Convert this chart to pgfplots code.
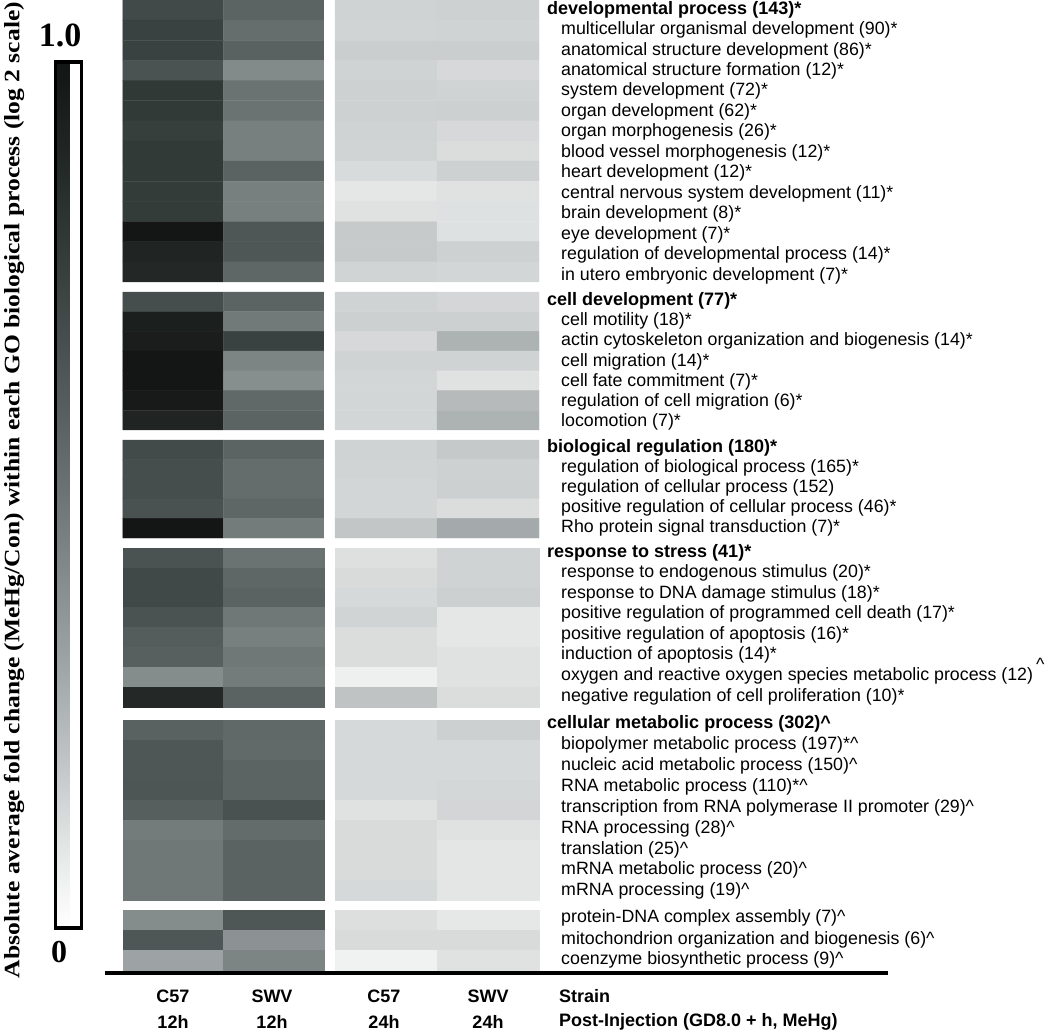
\documentclass[border=0pt]{standalone}
\usepackage{pgfplots}
\pgfplotsset{compat=1.18}
\usepackage{fontspec}
\setmainfont{Liberation Sans}
\newfontfamily\tnr{Liberation Serif}
\usepackage{graphicx}
\begin{document}
\begin{tikzpicture}[
  lab/.style={anchor=west, inner sep=0pt, font=\fontsize{17.8}{20}\selectfont},
  hd/.style={anchor=west, inner sep=0pt, font=\fontsize{18}{20}\selectfont\bfseries},
  bt/.style={inner sep=0pt, font=\fontsize{18}{20}\selectfont\bfseries},
]
\begin{axis}[
  name=main,
  at={(0,0)}, anchor=south west,
  width=1050pt, height=1033pt, scale only axis,
  xmin=0, xmax=1050, ymin=0, ymax=1033, y dir=reverse,
  hide axis, clip=false,
  colormap={hm}{rgb255(0cm)=(255,255,255); rgb255(1cm)=(226,228,228); rgb255(2cm)=(190,194,195);
    rgb255(3cm)=(160,166,167); rgb255(4cm)=(134,141,141); rgb255(5cm)=(108,116,116);
    rgb255(6cm)=(86,95,94); rgb255(7cm)=(66,75,73); rgb255(8cm)=(48,56,54);
    rgb255(9cm)=(32,37,36); rgb255(10cm)=(20,21,21)},
  point meta min=0, point meta max=1,
  colorbar,
  colorbar style={
    at={(parent axis.north west)}, anchor=north west,
    xshift=47pt, yshift=-62pt,
    width=26pt, height=866pt, scale only axis,
    ytick=\empty, xtick=\empty,
    axis line style={line width=3.5pt, black},
  },
]
% ---------- block 1: developmental process ----------
\addplot[matrix plot*, mesh/cols=2, point meta=explicit] coordinates {
(173,10.07)[.707] (273.5,10.07)[.578]
(173,30.21)[.750] (273.5,30.21)[.533]
(173,50.35)[.750] (273.5,50.35)[.586]
(173,70.49)[.662] (273.5,70.49)[.412]
(173,90.63)[.796] (273.5,90.63)[.511]
(173,110.77)[.790] (273.5,110.77)[.511]
(173,130.91)[.763] (273.5,130.91)[.455]
(173,151.05)[.790] (273.5,151.05)[.455]
(173,171.19)[.790] (273.5,171.19)[.580]
(173,191.33)[.780] (273.5,191.33)[.455]
(173,211.47)[.780] (273.5,211.47)[.455]
(173,231.61)[1.00] (273.5,231.61)[.638]
(173,251.75)[.900] (273.5,251.75)[.638]
(173,271.89)[.884] (273.5,271.89)[.562]
};
\addplot[matrix plot*, mesh/cols=2, point meta=explicit] coordinates {
(386,10.07)[.150] (488,10.07)[.155]
(386,30.21)[.147] (488,30.21)[.150]
(386,50.35)[.166] (488,50.35)[.166]
(386,70.49)[.150] (488,70.49)[.134]
(386,90.63)[.156] (488,90.63)[.150]
(386,110.77)[.155] (488,110.77)[.160]
(386,130.91)[.150] (488,130.91)[.134]
(386,151.05)[.147] (488,151.05)[.120]
(386,171.19)[.127] (488,171.19)[.155]
(386,191.33)[.088] (488,191.33)[.105]
(386,211.47)[.106] (488,211.47)[.110]
(386,231.61)[.177] (488,231.61)[.110]
(386,251.75)[.177] (488,251.75)[.157]
(386,271.89)[.147] (488,271.89)[.141]
};
% ---------- block 2: cell development ----------
\addplot[matrix plot*, mesh/cols=2, point meta=explicit] coordinates {
(173,301.86)[.684] (273.5,301.86)[.578]
(173,321.57)[.938] (273.5,321.57)[.481]
(173,341.29)[.952] (273.5,341.29)[.748]
(173,361.00)[1.00] (273.5,361.00)[.438]
(173,380.71)[1.00] (273.5,380.71)[.397]
(173,400.43)[.970] (273.5,400.43)[.557]
(173,420.14)[.900] (273.5,420.14)[.578]
};
\addplot[matrix plot*, mesh/cols=2, point meta=explicit] coordinates {
(386,301.86)[.150] (488,301.86)[.140]
(386,321.57)[.160] (488,321.57)[.160]
(386,341.29)[.134] (488,341.29)[.258]
(386,361.00)[.150] (488,361.00)[.150]
(386,380.71)[.141] (488,380.71)[.105]
(386,400.43)[.141] (488,400.43)[.227]
(386,420.14)[.141] (488,420.14)[.258]
};
% ---------- block 3: biological regulation ----------
\addplot[matrix plot*, mesh/cols=2, point meta=explicit] coordinates {
(173,449.8)[.698] (273.5,449.8)[.578]
(173,469.4)[.687] (273.5,469.4)[.538]
(173,489.0)[.687] (273.5,489.0)[.538]
(173,508.6)[.665] (273.5,508.6)[.562]
(173,528.2)[1.00] (273.5,528.2)[.473]
};
\addplot[matrix plot*, mesh/cols=2, point meta=explicit] coordinates {
(386,449.8)[.150] (488,449.8)[.180]
(386,469.4)[.147] (488,469.4)[.156]
(386,489.0)[.141] (488,489.0)[.160]
(386,508.6)[.141] (488,508.6)[.120]
(386,528.2)[.187] (488,528.2)[.287]
};
% ---------- block 4: response to stress ----------
\addplot[matrix plot*, mesh/cols=2, point meta=explicit] coordinates {
(173,557.94)[.659] (273.5,557.94)[.510]
(173,577.81)[.713] (273.5,577.81)[.562]
(173,597.69)[.711] (273.5,597.69)[.583]
(173,617.56)[.659] (273.5,617.56)[.488]
(173,637.44)[.610] (273.5,637.44)[.458]
(173,657.31)[.595] (273.5,657.31)[.488]
(173,677.19)[.405] (273.5,677.19)[.473]
(173,697.06)[.878] (273.5,697.06)[.583]
};
\addplot[matrix plot*, mesh/cols=2, point meta=explicit] coordinates {
(386,557.94)[.111] (488,557.94)[.150]
(386,577.81)[.126] (488,577.81)[.150]
(386,597.69)[.133] (488,597.69)[.160]
(386,617.56)[.147] (488,617.56)[.089]
(386,637.44)[.120] (488,637.44)[.089]
(386,657.31)[.120] (488,657.31)[.106]
(386,677.19)[.058] (488,677.19)[.106]
(386,697.06)[.196] (488,697.06)[.120]
};
% ---------- block 5: cellular metabolic process ----------
\addplot[matrix plot*, mesh/cols=2, point meta=explicit] coordinates {
(173,730)[.587] (273.5,730)[.557]
(173,750)[.638] (273.5,750)[.552]
(173,770)[.638] (273.5,770)[.576]
(173,790)[.643] (273.5,790)[.576]
(173,810)[.601] (273.5,810)[.665]
(173,830)[.473] (273.5,830)[.543]
(173,850)[.488] (273.5,850)[.583]
(173,870)[.488] (273.5,870)[.583]
(173,890)[.488] (273.5,890)[.583]
};
\addplot[matrix plot*, mesh/cols=2, point meta=explicit] coordinates {
(386,730)[.133] (488,730)[.160]
(386,750)[.133] (488,750)[.133]
(386,770)[.133] (488,770)[.133]
(386,790)[.133] (488,790)[.138]
(386,810)[.106] (488,810)[.143]
(386,830)[.126] (488,830)[.106]
(386,850)[.126] (488,850)[.094]
(386,870)[.126] (488,870)[.094]
(386,890)[.132] (488,890)[.094]
};
% ---------- block 6 ----------
\addplot[matrix plot*, mesh/cols=2, point meta=explicit] coordinates {
(173,920)[.405] (273.5,920)[.638]
(173,940)[.638] (273.5,940)[.379]
(173,960)[.311] (273.5,960)[.435]
};
\addplot[matrix plot*, mesh/cols=2, point meta=explicit] coordinates {
(386,920)[.114] (488,920)[.087]
(386,940)[.126] (488,940)[.126]
(386,960)[.051] (488,960)[.106]
};

% ---------- row labels ----------
\node[hd]  at (axis cs:547,10)  {developmental process (143)*};
\node[lab] at (axis cs:561,30)  {multicellular organismal development (90)*};
\node[lab] at (axis cs:561,51)  {anatomical structure development (86)*};
\node[lab] at (axis cs:561,71)  {anatomical structure formation (12)*};
\node[lab] at (axis cs:561,91)  {system development (72)*};
\node[lab] at (axis cs:561,112) {organ development (62)*};
\node[lab] at (axis cs:561,132) {organ morphogenesis (26)*};
\node[lab] at (axis cs:561,153) {blood vessel morphogenesis (12)*};
\node[lab] at (axis cs:561,173) {heart development (12)*};
\node[lab] at (axis cs:561,194) {central nervous system development (11)*};
\node[lab] at (axis cs:561,214) {brain development (8)*};
\node[lab] at (axis cs:561,235) {eye development (7)*};
\node[lab] at (axis cs:561,255) {regulation of developmental process (14)*};
\node[lab] at (axis cs:561,276) {in utero embryonic development (7)*};

\node[hd]  at (axis cs:547,301) {cell development (77)*};
\node[lab] at (axis cs:561,321) {cell motility (18)*};
\node[lab] at (axis cs:561,341) {actin cytoskeleton organization and biogenesis (14)*};
\node[lab] at (axis cs:561,362) {cell migration (14)*};
\node[lab] at (axis cs:561,382) {cell fate commitment (7)*};
\node[lab] at (axis cs:561,402) {regulation of cell migration (6)*};
\node[lab] at (axis cs:561,422) {locomotion (7)*};

\node[hd]  at (axis cs:547,448) {biological regulation (180)*};
\node[lab] at (axis cs:561,468) {regulation of biological process (165)*};
\node[lab] at (axis cs:561,488) {regulation of cellular process (152)};
\node[lab] at (axis cs:561,508) {positive regulation of cellular process (46)*};
\node[lab] at (axis cs:561,528) {Rho protein signal transduction (7)*};

\node[hd]  at (axis cs:547,553) {response to stress (41)*};
\node[lab] at (axis cs:561,573) {response to endogenous stimulus (20)*};
\node[lab] at (axis cs:561,594) {response to DNA damage stimulus (18)*};
\node[lab] at (axis cs:561,614) {positive regulation of programmed cell death (17)*};
\node[lab] at (axis cs:561,635) {positive regulation of apoptosis (16)*};
\node[lab] at (axis cs:561,655) {induction of apoptosis (14)*};
\node[lab] at (axis cs:561,676) {oxygen and reactive oxygen species metabolic process (12)\,\smash{\raisebox{1.1ex}{\textasciicircum}}};
\node[lab] at (axis cs:561,697) {negative regulation of cell proliferation (10)*};

\node[hd]  at (axis cs:547,724) {cellular metabolic process (302)\textasciicircum};
\node[lab] at (axis cs:561,745) {biopolymer metabolic process (197)*\textasciicircum};
\node[lab] at (axis cs:561,766) {nucleic acid metabolic process (150)\textasciicircum};
\node[lab] at (axis cs:561,787) {RNA metabolic process (110)*\textasciicircum};
\node[lab] at (axis cs:561,808) {transcription from RNA polymerase II promoter (29)\textasciicircum};
\node[lab] at (axis cs:561,829) {RNA processing (28)\textasciicircum};
\node[lab] at (axis cs:561,850) {translation (25)\textasciicircum};
\node[lab] at (axis cs:561,870) {mRNA metabolic process (20)\textasciicircum};
\node[lab] at (axis cs:561,891) {mRNA processing (19)\textasciicircum};

\node[lab] at (axis cs:561,918) {protein-DNA complex assembly (7)\textasciicircum};
\node[lab] at (axis cs:561,940) {mitochondrion organization and biogenesis (6)\textasciicircum};
\node[lab] at (axis cs:561,960) {coenzyme biosynthetic process (9)\textasciicircum};

% ---------- bottom ----------
\draw[line width=4pt] (axis cs:105,973) -- (axis cs:888,973);
\node[bt] at (axis cs:173,996) {C57};
\node[bt] at (axis cs:272,996) {SWV};
\node[bt] at (axis cs:384,996) {C57};
\node[bt] at (axis cs:488,996) {SWV};
\node[bt] at (axis cs:173,1022) {12h};
\node[bt] at (axis cs:272,1022) {12h};
\node[bt] at (axis cs:384,1022) {24h};
\node[bt] at (axis cs:488,1022) {24h};
\node[bt, anchor=west] at (axis cs:559,996) {Strain};
\node[bt, anchor=west] at (axis cs:559,1022) {Post-Injection (GD8.0 + h, MeHg)};

% ---------- colour bar texts ----------
\node[inner sep=0pt, font=\tnr\bfseries\fontsize{34}{36}\selectfont] at (axis cs:60,35) {1.0};
\node[inner sep=0pt, font=\tnr\bfseries\fontsize{32}{34}\selectfont] at (axis cs:59,952) {0};
\node[inner sep=0pt, rotate=90] at (axis cs:14,490) {\resizebox{976pt}{\height}{\tnr\bfseries\fontsize{22}{24}\selectfont Absolute average fold change (MeHg/Con) within each GO biological process (log 2 scale)}};
\end{axis}
\pgfresetboundingbox
\path[use as bounding box] (0,0) rectangle (1050pt,1033pt);
\end{tikzpicture}
\end{document}
